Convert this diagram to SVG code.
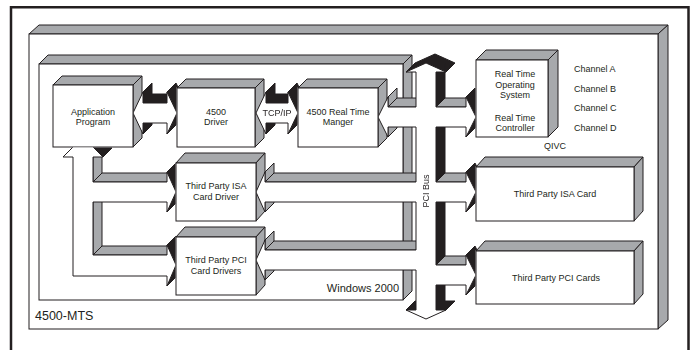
<svg xmlns="http://www.w3.org/2000/svg" width="693" height="350" viewBox="0 0 693 350">
<style>
.w{fill:#fff;stroke:#231f20;stroke-width:1}
.g{fill:#a7a9ac;stroke:#231f20;stroke-width:1}
.k{fill:#231f20;stroke:#231f20;stroke-width:1}
.t{font-family:"Liberation Sans",Arial,Helvetica,sans-serif;font-size:9px;fill:#231f20;text-anchor:middle}
.l{font-family:"Liberation Sans",Arial,Helvetica,sans-serif;fill:#231f20}
polygon,rect{stroke-linejoin:miter}
</style>
<defs>
<mask id="hide" maskUnits="userSpaceOnUse" x="0" y="0" width="693" height="350">
<rect x="0" y="0" width="693" height="350" fill="#fff"/>
<g fill="#000">
<rect x="52.5" y="84.5" width="81" height="63"/><polygon points="53,85 62,76 142,76 133,85"/>
<rect x="176.5" y="87.5" width="79" height="60"/><polygon points="177,88 186,79 264,79 255,88"/>
<rect x="297.5" y="87.5" width="81" height="60"/><polygon points="298,88 307,79 387,79 378,88"/>
<rect x="475.5" y="59.5" width="73" height="78"/><polygon points="476,60 486,50 558,50 548,60"/>
<rect x="175.5" y="162.5" width="81" height="59"/><polygon points="176,163 185,153 265,153 256,163"/>
<rect x="175.5" y="236.5" width="81" height="59"/><polygon points="176,237 185,227 265,227 256,237"/>
<rect x="475.5" y="166.5" width="159" height="55"/><polygon points="476,167 485,157 643,157 634,167"/>
<rect x="475.5" y="250.5" width="159" height="54"/><polygon points="476,251 485,241 643,241 634,251"/>
</g>
</mask>
</defs>

<rect x="11" y="7.25" width="677.5" height="360" fill="#fff" stroke="#231f20" stroke-width="2.5"/>

<g id="mts">
<polygon class="g" points="29,34 39,25 668,25 658,34"/>
<polygon class="g" points="658,34 668,25 668,320 658,329"/>
<rect class="w" x="29" y="34" width="629" height="295"/>
<text class="l" x="35" y="320" font-size="12.5">4500-MTS</text>
</g>

<g id="windows">
<polygon class="g" points="39,64 48,55 412,55 403,64"/>
<polygon class="g" points="403,64 412,55 412,291 403,300"/>
<rect class="w" x="39" y="64" width="364" height="236"/>
<text class="l" x="399" y="292" font-size="11" text-anchor="end">Windows 2000</text>
</g>

<g id="app">
<polygon class="g" points="53,85 62,76 142,76 133,85"/>
<polygon class="g" points="133,85 142,76 142,138 133,147"/>
<rect class="w" x="53" y="85" width="80" height="62"/>
<text class="t" x="93" y="115">Application</text>
<text class="t" x="93" y="125">Program</text>
</g>

<g id="driver">
<polygon class="g" points="177,88 186,79 264,79 255,88"/>
<polygon class="g" points="255,88 264,79 264,138 255,147"/>
<rect class="w" x="177" y="88" width="78" height="59"/>
<text class="t" x="216" y="115">4500</text>
<text class="t" x="216" y="125">Driver</text>
</g>

<g id="rtm">
<polygon class="g" points="298,88 307,79 387,79 378,88"/>
<polygon class="g" points="378,88 387,79 387,138 378,147"/>
<rect class="w" x="298" y="88" width="80" height="59"/>
<text class="t" x="338" y="115">4500 Real Time</text>
<text class="t" x="338" y="125">Manger</text>
</g>

<g id="isa-driver">
<polygon class="g" points="176,163 185,153 265,153 256,163"/>
<polygon class="g" points="256,163 265,153 265,211 256,221"/>
<rect class="w" x="176" y="163" width="80" height="58"/>
<text class="t" x="216" y="189">Third Party ISA</text>
<text class="t" x="216" y="200">Card Driver</text>
</g>

<g id="pci-driver">
<polygon class="g" points="176,237 185,227 265,227 256,237"/>
<polygon class="g" points="256,237 265,227 265,285 256,295"/>
<rect class="w" x="176" y="237" width="80" height="58"/>
<text class="t" x="216" y="263">Third Party PCI</text>
<text class="t" x="216" y="274">Card Drivers</text>
</g>

<g id="qivc">
<polygon class="g" points="476,60 486,50 558,50 548,60"/>
<polygon class="g" points="548,60 558,50 558,127 548,137"/>
<rect class="w" x="476" y="60" width="72" height="77"/>
<text class="t" x="515" y="77">Real Time</text>
<text class="t" x="515" y="88">Operating</text>
<text class="t" x="515" y="98">System</text>
<text class="t" x="515" y="121">Real Time</text>
<text class="t" x="515" y="131">Controller</text>
<text class="t" x="555" y="149">QIVC</text>
<text class="l" x="574" y="72" font-size="9">Channel A</text>
<text class="l" x="574" y="92" font-size="9">Channel B</text>
<text class="l" x="574" y="111" font-size="9">Channel C</text>
<text class="l" x="574" y="131" font-size="9">Channel D</text>
</g>

<g id="isa-card">
<polygon class="g" points="476,167 485,157 643,157 634,167"/>
<polygon class="g" points="634,167 643,157 643,211 634,221"/>
<rect class="w" x="476" y="167" width="158" height="54"/>
<text class="t" x="555" y="197">Third Party ISA Card</text>
</g>

<g id="pci-card">
<polygon class="g" points="476,251 485,241 643,241 634,251"/>
<polygon class="g" points="634,251 643,241 643,294 634,304"/>
<rect class="w" x="476" y="251" width="158" height="53"/>
<text class="t" x="556" y="281">Third Party PCI Cards</text>
</g>

<g id="connectors" mask="url(#hide)">
<g id="app-to-drivers">
<polygon class="g" points="93,157 93,182 102,173 102,148"/>
<polygon class="g" points="93,182 167,182 176,173 102,173"/>
<polygon class="g" points="93,202 93,255 102,246 102,193"/>
<polygon class="g" points="93,255 167,255 176,246 102,246"/>
<polygon class="k" points="83,137 103,157 112,148 92,128"/>
<polygon class="k" points="167,172 176,192 185,183 176,163"/>
<polygon class="k" points="176,192 167,212 176,203 185,183"/>
<polygon class="k" points="167,245 176,265 185,256 176,236"/>
<polygon class="k" points="176,265 167,286 176,277 185,256"/>
<polygon class="w" points="83,137 103,157 93,157 93,182 167,182 167,172 176,192 167,212 167,202 93,202 93,255 167,255 167,245 176,265 167,286 167,276 73,276 73,157 63,157"/>
</g>
<g id="app-driver">
<polygon class="k" points="143,92 143,103 152,94 152,83"/>
<polygon class="k" points="143,103 167,103 176,94 152,94"/>
<polygon class="k" points="167,92 177,113 186,104 176,83"/>
<polygon class="k" points="177,113 167,134 176,125 186,104"/>
<polygon class="k" points="143,123 143,134 152,125 152,114"/>
<polygon class="w" points="133,113 143,92 143,103 167,103 167,92 177,113 167,134 167,123 143,123 143,134"/>
</g>
<g id="tcpip">
<polygon class="k" points="266,92 266,103 275,94 275,83"/>
<polygon class="k" points="266,103 288,103 297,94 275,94"/>
<polygon class="k" points="288,92 298,113 307,104 297,83"/>
<polygon class="k" points="298,113 288,134 297,125 307,104"/>
<polygon class="k" points="266,123 266,134 275,125 275,114"/>
<polygon class="w" points="256,113 266,92 266,103 288,103 288,92 298,113 288,134 288,123 266,123 266,134"/>
<text class="t" x="277" y="116">TCP/IP</text>
</g>
<g id="pci-bus">
<polygon class="g" points="436,107 466,107 475,98 445,98"/>
<polygon class="g" points="436,182 466,182 475,173 445,173"/>
<polygon class="g" points="436,265 466,265 475,256 445,256"/>
<polygon class="g" points="265,270 265,280 274,271 274,261"/>
<polygon class="g" points="265,240 265,250 274,241 274,231"/>
<polygon class="g" points="265,250 416,250 425,241 274,241"/>
<polygon class="g" points="265,202 265,212 274,203 274,193"/>
<polygon class="g" points="265,172 265,182 274,173 274,163"/>
<polygon class="g" points="265,182 416,182 425,173 274,173"/>
<polygon class="g" points="388,127 388,137 397,128 397,118"/>
<polygon class="g" points="388,97 388,107 397,98 397,88"/>
<polygon class="g" points="388,107 416,107 425,98 397,98"/>
<polygon class="k" points="406,72 426,63 435,54 415,63"/>
<polygon class="k" points="426,63 446,72 455,63 435,54"/>
<polygon class="k" points="436,72 436,107 445,98 445,63"/>
<polygon class="k" points="466,97 476,117 485,108 475,88"/>
<polygon class="k" points="476,117 466,137 475,128 485,108"/>
<polygon class="k" points="436,127 436,182 445,173 445,118"/>
<polygon class="k" points="466,172 476,192 485,183 475,163"/>
<polygon class="k" points="476,192 466,212 475,203 485,183"/>
<polygon class="k" points="436,202 436,265 445,256 445,193"/>
<polygon class="k" points="466,255 476,275 485,266 475,246"/>
<polygon class="k" points="476,275 466,295 475,286 485,266"/>
<polygon class="k" points="436,285 436,310 445,301 445,276"/>
<polygon class="k" points="436,310 446,310 455,301 445,301"/>
<polygon class="k" points="406,310 416,310 425,301 415,301"/>
<polygon class="w" points="426,63 446,72 436,72 436,107 466,107 466,97 476,117 466,137 466,127 436,127 436,182 466,182 466,172 476,192 466,212 466,202 436,202 436,265 466,265 466,255 476,275 466,295 466,285 436,285 436,310 446,310 426,319 406,310 416,310 416,270 265,270 265,280 256,260 265,240 265,250 416,250 416,202 265,202 265,212 256,192 265,172 265,182 416,182 416,127 388,127 388,137 378,117 388,97 388,107 416,107 416,72 406,72"/>
<text class="t" transform="translate(428.5,191) rotate(-90)">PCI Bus</text>
</g>
</g>
</svg>
